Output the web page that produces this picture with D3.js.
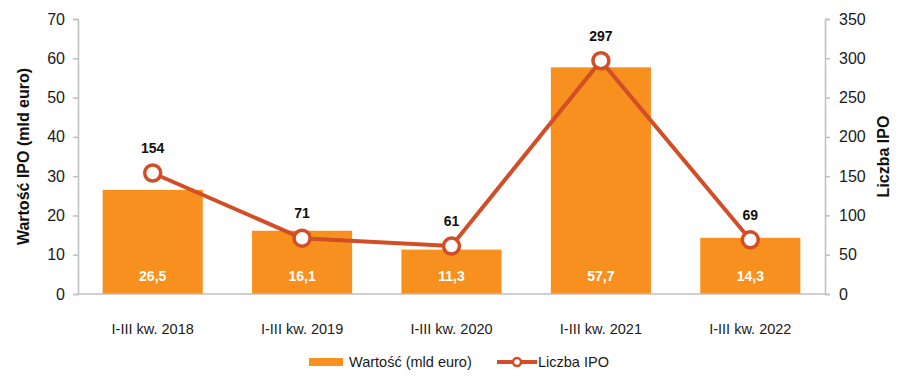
<!DOCTYPE html>
<html>
<head>
<meta charset="utf-8">
<script src="https://cdn.jsdelivr.net/npm/d3@7"></script>
<style>
  body { margin: 0; background: #fff; }
  svg { display: block; font-family: "Liberation Sans", Arial, sans-serif; }
</style>
</head>
<body>
<svg id="chart" width="914" height="384"></svg>
<script>
var categories = ["I-III kw. 2018", "I-III kw. 2019", "I-III kw. 2020", "I-III kw. 2021", "I-III kw. 2022"];
var values = [26.5, 16.1, 11.3, 57.7, 14.3];
var counts = [154, 71, 61, 297, 69];
var leftTicks = [0, 10, 20, 30, 40, 50, 60, 70];
var rightTicks = [0, 50, 100, 150, 200, 250, 300, 350];

var barColor = "#f7901e";
var lineColor = "#d24e26";
var axisColor = "#bfbfbf";

var svg = d3.select("#chart");
var margin = { top: 19, right: 89, bottom: 90, left: 78 };
var width = 914 - margin.left - margin.right;
var height = 384 - margin.top - margin.bottom;

var g = svg.append("g").attr("transform", "translate(" + margin.left + "," + margin.top + ")");

var x = d3.scaleBand().domain(categories).range([0, width]).paddingInner(0.33).paddingOuter(0.165);
var xc = d3.scalePoint().domain(categories).range([0, width]).padding(0.5);
var yL = d3.scaleLinear().domain([0, 70]).range([height, 0]);
var yR = d3.scaleLinear().domain([0, 350]).range([height, 0]);

// bars
g.selectAll("rect.bar").data(values).enter().append("rect")
  .attr("class", "bar")
  .attr("x", function (d, i) { return x(categories[i]); })
  .attr("y", function (d) { return yL(d); })
  .attr("width", x.bandwidth())
  .attr("height", function (d) { return height - yL(d); })
  .attr("fill", barColor);

g.selectAll("text.val").data(values).enter().append("text")
  .attr("x", function (d, i) { return x(categories[i]) + x.bandwidth() / 2; })
  .attr("y", height - 13)
  .attr("text-anchor", "middle")
  .attr("fill", "#fff")
  .attr("font-weight", "bold")
  .attr("font-size", 14)
  .text(function (d) { return String(d).replace(".", ","); });

// axes
var leftAxis = d3.axisLeft(yL).tickValues(leftTicks).tickSize(5).tickPadding(8);
var lg = g.append("g").call(leftAxis);
var rightAxis = d3.axisRight(yR).tickValues(rightTicks).tickSize(5).tickPadding(8);
var rg = g.append("g").attr("transform", "translate(" + width + ",0)").call(rightAxis);
[lg, rg].forEach(function (a) {
  a.select(".domain").attr("stroke", axisColor).attr("stroke-width", 1.5);
  a.selectAll(".tick line").attr("stroke", axisColor).attr("stroke-width", 1.5);
  a.selectAll(".tick text").attr("font-size", 16).attr("fill", "#1a1a1a")
    .attr("font-family", "Liberation Sans, Arial, sans-serif");
});
rg.selectAll(".tick text").attr("x", 14);

// baseline
g.append("line").attr("x1", 0).attr("x2", width).attr("y1", height).attr("y2", height)
  .attr("stroke", axisColor).attr("stroke-width", 1.5);

// category labels
g.selectAll("text.cat").data(categories).enter().append("text")
  .attr("x", function (d) { return xc(d); })
  .attr("y", height + 40)
  .attr("text-anchor", "middle")
  .attr("font-size", 14.5)
  .attr("fill", "#1a1a1a")
  .text(function (d) { return d; });

// line
var line = d3.line().x(function (d, i) { return xc(categories[i]); }).y(function (d) { return yR(d); });
g.append("path").datum(counts).attr("d", line)
  .attr("fill", "none").attr("stroke", lineColor).attr("stroke-width", 4);
g.selectAll("circle.pt").data(counts).enter().append("circle")
  .attr("cx", function (d, i) { return xc(categories[i]); })
  .attr("cy", function (d) { return yR(d); })
  .attr("r", 8)
  .attr("fill", "#fff").attr("stroke", lineColor).attr("stroke-width", 3.5);
g.selectAll("text.cnt").data(counts).enter().append("text")
  .attr("x", function (d, i) { return xc(categories[i]); })
  .attr("y", function (d) { return yR(d) - 20; })
  .attr("text-anchor", "middle")
  .attr("font-weight", "bold")
  .attr("font-size", 14)
  .attr("fill", "#111")
  .text(function (d) { return d; });

// axis titles
svg.append("text")
  .attr("transform", "translate(29," + (margin.top + height / 2) + ") rotate(-90)")
  .attr("text-anchor", "middle").attr("font-weight", "bold").attr("font-size", 16).attr("fill", "#111")
  .text("Wartość IPO (mld euro)");
svg.append("text")
  .attr("transform", "translate(889," + (margin.top + height / 2) + ") rotate(-90)")
  .attr("text-anchor", "middle").attr("font-weight", "bold").attr("font-size", 16).attr("fill", "#111")
  .text("Liczba IPO");

// legend
var leg = svg.append("g").attr("transform", "translate(0,362)");
leg.append("rect").attr("x", 309).attr("y", -4).attr("width", 34).attr("height", 8).attr("fill", barColor);
leg.append("text").attr("x", 349).attr("y", 5).attr("font-size", 14.5).attr("fill", "#1a1a1a").text("Wartość (mld euro)");
leg.append("line").attr("x1", 497).attr("x2", 537).attr("y1", 0).attr("y2", 0)
  .attr("stroke", lineColor).attr("stroke-width", 4);
leg.append("circle").attr("cx", 517).attr("cy", 0).attr("r", 4)
  .attr("fill", "#fff").attr("stroke", lineColor).attr("stroke-width", 2.5);
leg.append("text").attr("x", 538).attr("y", 5).attr("font-size", 14.5).attr("fill", "#1a1a1a").text("Liczba IPO");
</script>
</body>
</html>
